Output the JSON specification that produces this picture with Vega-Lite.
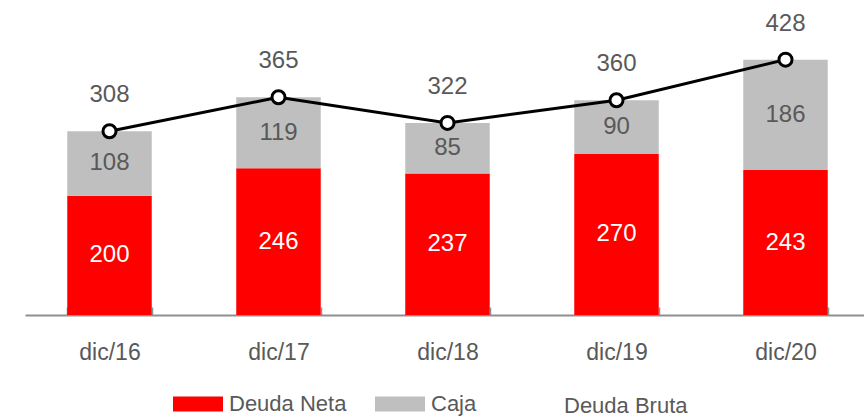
{
  "$schema": "https://vega.github.io/schema/vega-lite/v6.json",
  "autosize": "none",
  "padding": {"left": 25, "top": 0, "right": -6, "bottom": 105},
  "width": {"step": 169},
  "height": 315,
  "background": "white",
  "config": {"view": {"stroke": null}, "font": "Liberation Sans"},
  "data": {"values": [
    {"fecha": "dic/16", "neta": 200, "caja": 108, "bruta": 308},
    {"fecha": "dic/17", "neta": 246, "caja": 119, "bruta": 365},
    {"fecha": "dic/18", "neta": 237, "caja": 85, "bruta": 322},
    {"fecha": "dic/19", "neta": 270, "caja": 90, "bruta": 360},
    {"fecha": "dic/20", "neta": 243, "caja": 186, "bruta": 428}
  ]},
  "transform": [
    {"calculate": "datum.neta / 2", "as": "midNeta"},
    {"calculate": "(datum.neta + datum.bruta) / 2", "as": "midCaja"}
  ],
  "encoding": {
    "x": {"field": "fecha", "type": "nominal", "sort": null,
      "scale": {"paddingInner": 0.5, "paddingOuter": 0.25},
      "axis": {"title": null, "labelAngle": 0, "labelFont": "Liberation Sans", "labelFontSize": 23, "labelColor": "#595959",
        "labelPadding": 34, "domainColor": "#8f8f8f", "domainWidth": 2, "ticks": true, "tickColor": "#8f8f8f", "tickWidth": 1.5,
        "tickSize": -8, "tickBand": "extent", "grid": false}}
  },
  "layer": [
    {
      "mark": {"type": "bar"},
      "encoding": {
        "y": {"field": "neta", "type": "quantitative", "scale": {"domain": [0, 528], "nice": false, "zero": true}, "axis": null},
        "color": {"datum": "Deuda Neta", "type": "nominal",
          "scale": {"domain": ["Deuda Neta", "Caja"], "range": ["#ff0000", "#bfbfbf"]},
          "legend": {"orient": "none", "legendX": 148, "legendY": 379, "direction": "horizontal", "title": null,
            "labelFont": "Liberation Sans", "labelFontSize": 22, "labelColor": "#595959",
            "symbolType": "M-1,-0.3H1V0.3H-1Z", "symbolSize": 2500, "symbolStrokeWidth": 0, "symbolOpacity": 1,
            "labelOffset": 6, "columnPadding": 28}
        }
      }
    },
    {
      "mark": {"type": "bar"},
      "encoding": {
        "y": {"field": "neta", "type": "quantitative"},
        "y2": {"field": "bruta"},
        "color": {"datum": "Caja", "type": "nominal"}
      }
    },
    {
      "mark": {"type": "text", "fontSize": 24, "color": "#ffffff", "baseline": "middle"},
      "encoding": {
        "y": {"field": "midNeta", "type": "quantitative"},
        "text": {"field": "neta", "type": "quantitative"}
      }
    },
    {
      "mark": {"type": "text", "fontSize": 24, "color": "#595959", "baseline": "middle"},
      "encoding": {
        "y": {"field": "midCaja", "type": "quantitative"},
        "text": {"field": "caja", "type": "quantitative"}
      }
    },
    {
      "mark": {"type": "line", "strokeWidth": 3, "color": "#000000"},
      "encoding": {
        "y": {"field": "bruta", "type": "quantitative"}
      }
    },
    {
      "mark": {"type": "point", "filled": true, "fill": "#ffffff", "stroke": "#000000", "strokeWidth": 3, "size": 0, "opacity": 1},
      "encoding": {
        "y": {"field": "bruta", "type": "quantitative"},
        "shape": {"datum": "Deuda Bruta", "type": "nominal",
          "scale": {"domain": ["Deuda Bruta"], "range": ["M-1,0H-0.27M0.27,0H1M0.27,0A0.27,0.27,0,1,1,-0.27,0A0.27,0.27,0,1,1,0.27,0Z"]},
          "legend": {"orient": "none", "legendX": 480, "legendY": 379, "direction": "horizontal", "title": null,
            "labelFont": "Liberation Sans", "labelFontSize": 22, "labelColor": "#595959",
            "symbolSize": 2500, "symbolStrokeWidth": 3, "symbolOpacity": 1,
            "symbolFillColor": "#ffffff", "symbolStrokeColor": "#000000", "labelOffset": 6}
        }
      }
    },
    {
      "mark": {"type": "point", "filled": true, "fill": "#ffffff", "stroke": "#000000", "strokeWidth": 3, "size": 170, "opacity": 1},
      "encoding": {
        "y": {"field": "bruta", "type": "quantitative"}
      }
    },
    {
      "mark": {"type": "text", "fontSize": 24, "color": "#595959", "baseline": "middle", "dy": -36},
      "encoding": {
        "y": {"field": "bruta", "type": "quantitative"},
        "text": {"field": "bruta", "type": "quantitative"}
      }
    }
  ]
}
